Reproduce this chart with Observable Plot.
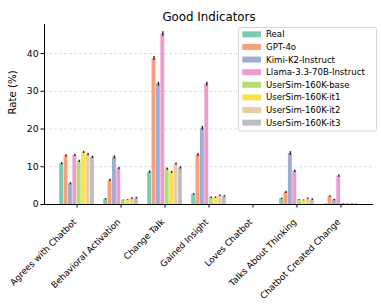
<!DOCTYPE html>
<html>
<head>
<meta charset="utf-8">
<script src="https://cdn.jsdelivr.net/npm/d3@7"></script>
<script src="https://cdn.jsdelivr.net/npm/@observablehq/plot@0.6"></script>
<style>
  html, body { margin: 0; padding: 0; background: white; }
  svg { font-family: "DejaVu Sans", sans-serif; }
</style>
</head>
<body>
<div id="chart"></div>
<script>
const categories = ["Agrees with Chatbot", "Behavioral Activation", "Change Talk", "Gained Insight", "Loves Chatbot", "Talks About Thinking", "Chatbot Created Change"];
const series = ["Real", "GPT-4o", "Kimi-K2-Instruct", "Llama-3.3-70B-Instruct", "UserSim-160K-base", "UserSim-160K-it1", "UserSim-160K-it2", "UserSim-160K-it3"];
const colors = ["#66c2a5", "#fc8d62", "#8da0cb", "#e78ac3", "#a6d854", "#ffd92f", "#e5c494", "#b3b3b3"];

// values (%) per series, one per category
const real  = [10.8, 1.4, 8.6, 2.7, 0, 1.5, 0.05];
const gpt4o = [12.9, 6.4, 38.7, 13.1, 0, 3.2, 2.1];
const kimi  = [5.5, 12.5, 31.9, 20.2, 0, 13.5, 1.2];
const llama = [13.0, 9.5, 45.2, 31.9, 0, 8.8, 7.5];
const base  = [11.4, 1.1, 9.4, 1.8, 0, 1.2, 0.2];
const it1   = [13.8, 1.2, 8.5, 1.8, 0, 1.1, 0.2];
const it2   = [13.2, 1.6, 10.7, 2.3, 0, 1.5, 0.2];
const it3   = [12.5, 1.7, 9.7, 2.2, 0, 1.3, 0.1];

// error half-widths
const realErr  = [0.3, 0.2, 0.3, 0.2, 0, 0.2, 0.05];
const gpt4oErr = [0.3, 0.3, 0.5, 0.4, 0, 0.3, 0.2];
const kimiErr  = [0.3, 0.4, 0.5, 0.5, 0, 0.5, 0.2];
const llamaErr = [0.3, 0.3, 0.6, 0.5, 0, 0.3, 0.3];
const baseErr  = [0.3, 0.1, 0.3, 0.2, 0, 0.1, 0.05];
const it1Err   = [0.3, 0.1, 0.3, 0.2, 0, 0.1, 0.05];
const it2Err   = [0.3, 0.2, 0.3, 0.2, 0, 0.2, 0.05];
const it3Err   = [0.3, 0.2, 0.3, 0.2, 0, 0.2, 0.05];

const yTicks = [0, 10, 20, 30, 40];
const gridTicks = [10, 20, 30, 40];

const allValues = [real, gpt4o, kimi, llama, base, it1, it2, it3];
const allErrs = [realErr, gpt4oErr, kimiErr, llamaErr, baseErr, it1Err, it2Err, it3Err];

const barW = 0.1;
const data = [];
series.forEach((s, j) => {
  categories.forEach((c, i) => {
    data.push({
      series: s, category: c, value: allValues[j][i], err: allErrs[j][i],
      x1: i + (j - 4) * barW, x2: i + (j - 3) * barW, xc: i + (j - 3.5) * barW
    });
  });
});
const xDomain = [-0.74, categories.length - 1 + 0.74];
const catIdx = categories.map((c, i) => ({c, i}));

const chart = Plot.plot({
  width: 381,
  height: 304,
  marginLeft: 44,
  marginRight: 8,
  marginTop: 24,
  marginBottom: 100,
  style: {fontFamily: "DejaVu Sans, sans-serif", fontSize: "9px", background: "white", overflow: "visible"},
  x: {domain: xDomain, axis: null},
  y: {domain: [0, 47.7], axis: null},
  color: {domain: series, range: colors},
  marks: [
    Plot.ruleY(gridTicks, {stroke: "#b0b0b0", strokeOpacity: 0.5, strokeDasharray: "3,2", strokeWidth: 0.8}),
    Plot.rect(data, {x1: "x1", x2: "x2", y1: () => 0, y2: "value", fill: "series", fillOpacity: 0.85, insetLeft: 0.25, insetRight: 0.25}),
    Plot.ruleX(data.filter(d => d.value > 0), {x: "xc", y1: d => d.value - d.err, y2: d => d.value + d.err, stroke: "#222", strokeWidth: 1.4}),
    Plot.ruleY([0], {stroke: "black", strokeWidth: 1}),
    Plot.ruleX([xDomain[0]], {stroke: "black", strokeWidth: 1}),
    Plot.axisX({ticks: categories.map((c, i) => i), tickSize: 3.5, tickFormat: () => "", anchor: "bottom", label: null}),
    Plot.axisY({ticks: yTicks, tickSize: 3.5, tickPadding: 2.5, label: null, fontSize: 9.2, anchor: "left"}),
    Plot.text(catIdx, {x: "i", y: () => 0, text: "c", rotate: -45, textAnchor: "end", lineAnchor: "middle", dx: -2, dy: 16, fontSize: 8.8}),
    Plot.text(["Rate (%)"], {frameAnchor: "left", dx: -32, rotate: -90, fontSize: 10.2}),
    Plot.text(["Good Indicators"], {frameAnchor: "top", dy: -12, fontSize: 11.8})
  ]
});
document.getElementById("chart").appendChild(chart);

// legend
const svg = d3.select(chart.tagName.toLowerCase() === "svg" ? chart : chart.querySelector("svg"));
const color = chart.scale("color");
const lg = svg.append("g").attr("font-family", "DejaVu Sans, sans-serif").attr("font-size", 8.6).attr("text-anchor", "start");
lg.append("rect").attr("x", 238.5).attr("y", 27.5).attr("width", 138).attr("height", 103.5)
  .attr("rx", 2).attr("fill", "white").attr("fill-opacity", 0.85).attr("stroke", "#cccccc").attr("stroke-width", 0.8);
series.forEach((s, k) => {
  const cy = 34.3 + 12.62 * k;
  lg.append("rect").attr("x", 242.3).attr("y", cy - 3).attr("width", 18.7).attr("height", 6)
    .attr("fill", color.apply(s)).attr("fill-opacity", 0.85);
  lg.append("text").attr("x", 266).attr("y", cy).attr("dy", "0.35em").attr("fill", "black").attr("text-anchor", "start").text(s);
});
</script>
</body>
</html>
